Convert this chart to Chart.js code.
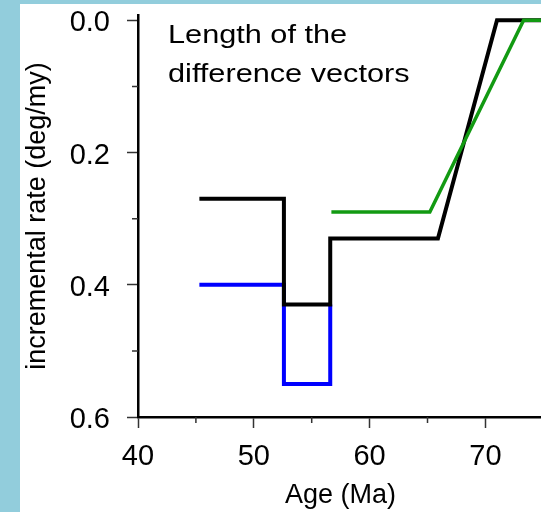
<!DOCTYPE html>
<html>
<head>
<meta charset="utf-8">
<script src="https://cdn.jsdelivr.net/npm/chart.js@4.4.0/dist/chart.umd.min.js"></script>
<style>
    html, body { margin: 0; padding: 0; background: #fff; }
    canvas { display: block; }
</style>
</head>
<body>
<canvas id="rateChart" width="541" height="512"></canvas>
<script>
"use strict";

// Data
const blackAge = [45.3, 52.6, 52.6, 56.6, 56.6, 65.9, 71.0, 74.8];
const blackRate = [0.27, 0.27, 0.43, 0.43, 0.33, 0.33, 0.0, 0.0];
const greenAge = [56.7, 65.2, 73.3, 74.8];
const greenRate = [0.29, 0.29, 0.0, 0.0];
const blueAge = [45.3, 52.6, 52.6, 56.6, 56.6];
const blueRate = [0.40, 0.40, 0.55, 0.55, 0.43];

// Axes
const xTicks = [40, 50, 60, 70];
const xMinorTicks = [45, 55, 65];
const yTicks = [0.0, 0.2, 0.4, 0.6];
const yMinorTicks = [0.1, 0.3, 0.5];

// Texts
const xTitle = "Age (Ma)";
const yTitle = "incremental rate (deg/my)";
const noteLines = ["Length of the", "difference vectors"];

const FONT = "'Liberation Sans', Arial, sans-serif";

// x/y-par för scatter
function toPoints(xs, ys) {
    return xs.map((x, i) => ({ x: x, y: ys[i] }));
}

// Bakgrund med ljusblå kant
const backgroundPlugin = {
    id: 'background',
    beforeDraw(chart) {
        const ctx = chart.ctx;
        ctx.save();
        ctx.fillStyle = '#92cddc';
        ctx.fillRect(0, 0, chart.width, chart.height);
        ctx.fillStyle = '#ffffff';
        ctx.fillRect(20, 4, chart.width - 20, chart.height - 4);
        ctx.restore();
    }
};

// Små tickar, axeltitlar och textruta
const extrasPlugin = {
    id: 'extras',
    afterDraw(chart) {
        const ctx = chart.ctx;
        const xs = chart.scales.x;
        const ys = chart.scales.y;
        const area = chart.chartArea;

        ctx.save();
        ctx.strokeStyle = '#333';
        ctx.lineWidth = 1.5;
        ctx.beginPath();
        xMinorTicks.forEach(v => {
            const px = xs.getPixelForValue(v);
            ctx.moveTo(px, area.bottom);
            ctx.lineTo(px, area.bottom + 6);
        });
        yMinorTicks.forEach(v => {
            const py = ys.getPixelForValue(v);
            ctx.moveTo(area.left, py);
            ctx.lineTo(area.left - 6, py);
        });
        ctx.stroke();

        ctx.fillStyle = '#000';
        ctx.font = '27px ' + FONT;
        ctx.textAlign = 'center';
        ctx.textBaseline = 'alphabetic';
        ctx.fillText(xTitle, (area.left + area.right) / 2 + 1, 503);

        ctx.save();
        ctx.translate(45, 216);
        ctx.rotate(-Math.PI / 2);
        ctx.fillText(yTitle, 0, 0);
        ctx.restore();

        ctx.textAlign = 'left';
        ctx.font = '26px ' + FONT;
        noteLines.forEach((line, i) => {
            ctx.save();
            ctx.translate(168, 43 + i * 39);
            ctx.scale(1.18, 1);
            ctx.fillText(line, 0, 0);
            ctx.restore();
        });
        ctx.restore();
    }
};

const lineStyle = {
    showLine: true,
    pointRadius: 0,
    pointHoverRadius: 0,
    tension: 0,
    fill: false,
    borderJoinStyle: 'miter',
    borderCapStyle: 'butt'
};

new Chart(document.getElementById('rateChart'), {
    type: 'scatter',
    data: {
        datasets: [
            Object.assign({ label: 'green', data: toPoints(greenAge, greenRate), borderColor: '#129a12', borderWidth: 3.5, order: 1 }, lineStyle),
            Object.assign({ label: 'black', data: toPoints(blackAge, blackRate), borderColor: '#000000', borderWidth: 4, order: 2 }, lineStyle),
            Object.assign({ label: 'blue', data: toPoints(blueAge, blueRate), borderColor: '#0000ff', borderWidth: 4, order: 3 }, lineStyle)
        ]
    },
    options: {
        responsive: false,
        animation: false,
        events: [],
        layout: { padding: { top: 15, right: 0, bottom: 0, left: 0 } },
        plugins: {
            legend: { display: false },
            tooltip: { enabled: false }
        },
        scales: {
            x: {
                type: 'linear',
                min: 40,
                max: 74.8,
                afterBuildTicks: s => { s.ticks = xTicks.map(v => ({ value: v })); },
                afterFit: s => { s.height = 95; s.paddingLeft = 0; s.paddingRight = 0; },
                ticks: {
                    autoSkip: false,
                    maxRotation: 0,
                    padding: 12,
                    color: '#000',
                    font: { family: FONT, size: 29 },
                    callback: v => String(v)
                },
                grid: {
                    drawOnChartArea: false,
                    drawTicks: true,
                    tickLength: 11,
                    tickWidth: 1.5,
                    tickColor: '#333'
                },
                border: { display: true, color: '#000', width: 2.5 }
            },
            y: {
                type: 'linear',
                reverse: true,
                min: -0.008,
                max: 0.6,
                afterBuildTicks: s => { s.ticks = yTicks.map(v => ({ value: v })); },
                afterFit: s => { s.width = 138; s.paddingTop = 0; s.paddingBottom = 0; },
                ticks: {
                    autoSkip: false,
                    padding: 17,
                    labelOffset: 3,
                    color: '#000',
                    font: { family: FONT, size: 29 },
                    callback: v => v.toFixed(1)
                },
                grid: {
                    drawOnChartArea: false,
                    drawTicks: true,
                    tickLength: 11,
                    tickWidth: 1.5,
                    tickColor: '#333'
                },
                border: { display: true, color: '#000', width: 2.5 }
            }
        }
    },
    plugins: [backgroundPlugin, extrasPlugin]
});
</script>
</body>
</html>
